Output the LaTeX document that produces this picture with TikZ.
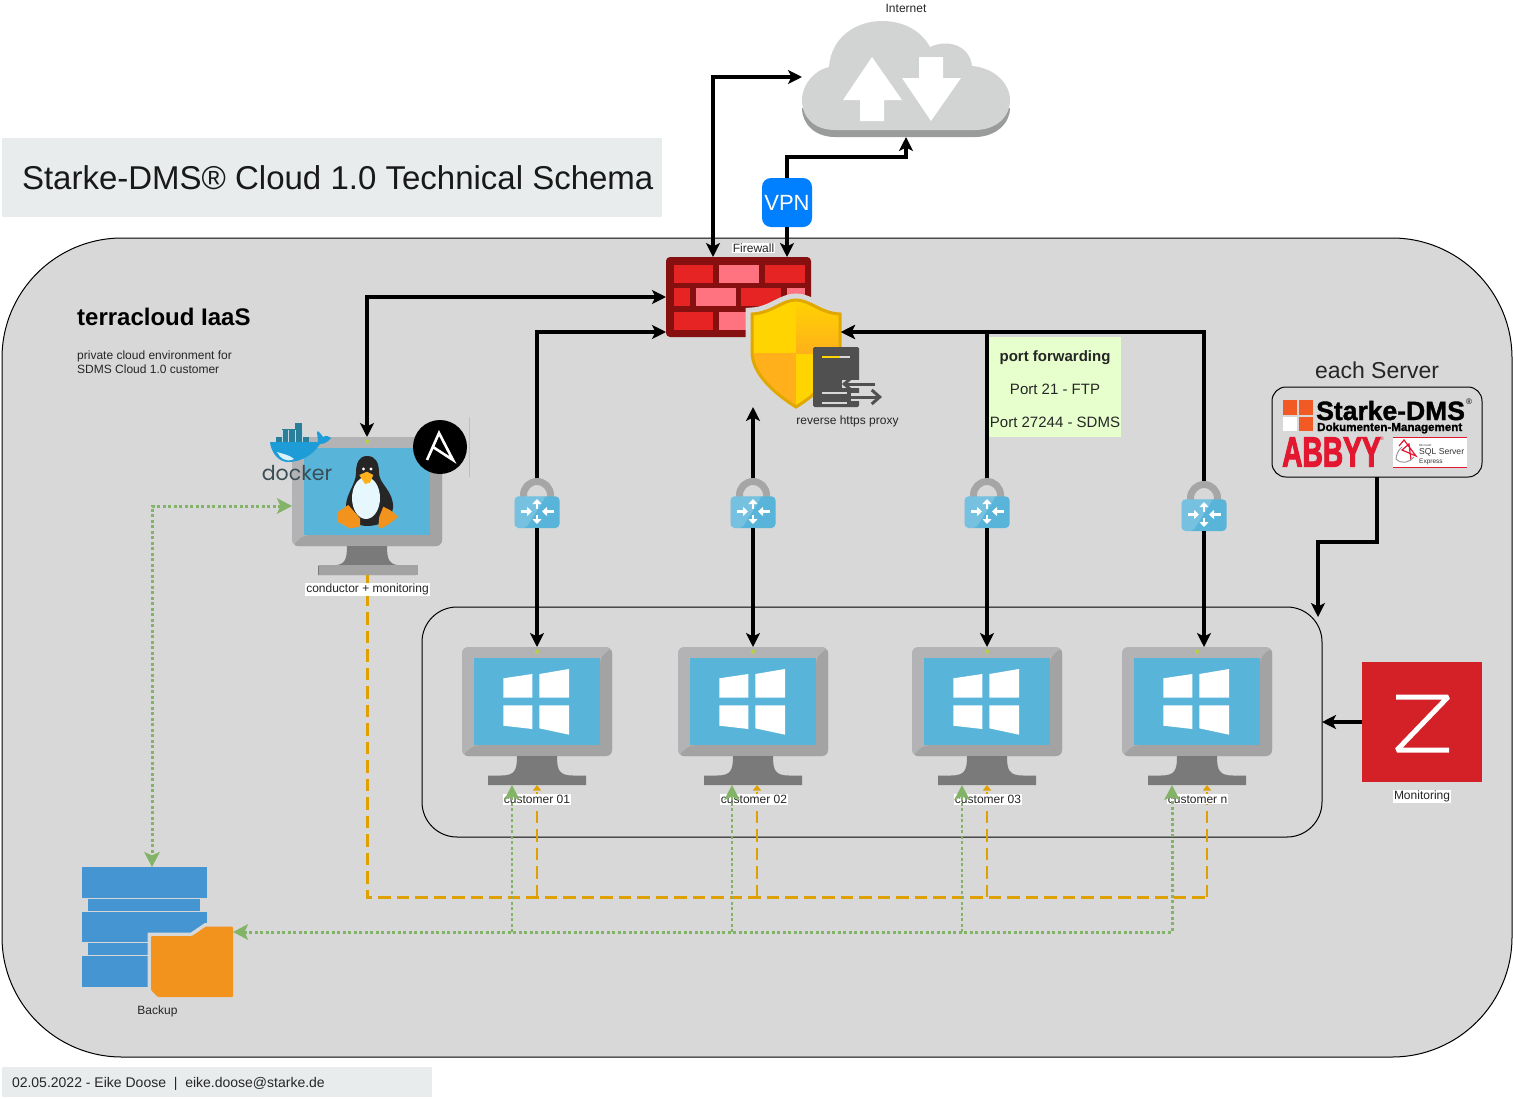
\documentclass[tikz,border=0pt]{standalone}
\usepackage{fontspec}
\setmainfont{Liberation Sans}
\newfontfamily\dockerfont{Poppins}
\newfontfamily\starkefont[BoldFeatures={FakeBold=1.5}]{Liberation Sans}
\newfontfamily\abbyyfont[BoldFeatures={FakeBold=3}]{Liberation Sans}
\usepackage{xcolor}
\usepackage{tikz}
\usetikzlibrary{arrows.meta,positioning,calc}
\definecolor{titlegray}{HTML}{E9ECEC}
\definecolor{iaasgray}{HTML}{D8D8D8}
\definecolor{cloudgray}{HTML}{D2D4D3}
\definecolor{cloudshade}{HTML}{9A9B9B}
\definecolor{vpnblue}{HTML}{007FFF}
\definecolor{wallred}{HTML}{85100F}
\definecolor{brickred}{HTML}{E62424}
\definecolor{brickpink}{HTML}{FF7380}
\definecolor{shieldgold}{HTML}{FFD400}
\definecolor{shieldamber}{HTML}{FFB01A}
\definecolor{shieldrim}{HTML}{E0A800}
\definecolor{proxygray}{HTML}{505050}
\definecolor{monbody}{HTML}{B3B3B5}
\definecolor{monshade}{HTML}{A3A3A3}
\definecolor{monstand}{HTML}{7A7A7A}
\definecolor{screenblue}{HTML}{59B4D9}
\definecolor{lockgray}{HTML}{A6A6A6}
\definecolor{notegreen}{HTML}{E6FFCC}
\definecolor{flowgreen}{HTML}{82B366}
\definecolor{floworange}{HTML}{DFA000}
\definecolor{stackblue}{HTML}{4495D1}
\definecolor{folderorange}{HTML}{F2931E}
\definecolor{zabbixred}{HTML}{D42027}
\definecolor{starkeorange}{HTML}{F15A24}
\definecolor{abbyyred}{HTML}{E3172F}
\definecolor{dockerblue}{HTML}{1E9CD7}
\definecolor{dockerdark}{HTML}{2A7F9B}
\definecolor{dockertext}{HTML}{394D54}
\definecolor{ledgreen}{HTML}{B8D432}
\newcommand{\fsz}[1]{\fontsize{#1}{#1}\selectfont}

\begin{document}
\begin{tikzpicture}[
  x=1pt,y=-1pt,
  place/.style 2 args={inner sep=0pt,outer sep=0pt,minimum width=#1,minimum height=#2},
  tag/.style={font=\fsz{12},inner sep=1pt,text=black!85,yshift=-0.8pt},
  whitetag/.style={tag,fill=white},
  flow/.style={draw=black,line width=3.1pt,-{Stealth[length=14pt,width=14pt,inset=3.5pt]}},
  bothflow/.style={flow,{Stealth[length=14pt,width=14pt,inset=3.5pt]}-{Stealth[length=14pt,width=14pt,inset=3.5pt]}},
  feed/.style={draw=floworange,line width=3pt,dash pattern=on 12.5pt off 6pt},
  feedup/.style={feed,line width=2.6pt,-{Stealth[length=5.5pt,width=8pt,inset=0pt]}},
  save/.style={draw=flowgreen,line width=2.8pt,dash pattern=on 3pt off 2.5pt,-{Stealth[length=15pt,width=15.5pt,inset=3.5pt]}},
  bothsave/.style={save,line width=3pt,{Stealth[length=15pt,width=15.5pt,inset=3.5pt]}-{Stealth[length=15pt,width=15.5pt,inset=3.5pt]}},
  pics/monitor/.style={code={
    \fill[monbody,rounded corners=6pt] (-75,-69) rectangle (75,40);
    \fill[monshade,rounded corners=6pt] (75,-69) -- (63,-58) -- (63,29) -- (-63,29) -- (-75,40) -- (75,40) -- cycle;
    \fill[screenblue] (-63,-58) rectangle (63,29);
    \fill[monstand] (-20,40) -- (20,40) .. controls (20,54) and (22,59.5) .. (36,59.5)
      -- (49,59.5) -- (49,69) -- (-49,69) -- (-49,59.5) -- (-36,59.5) .. controls (-22,59.5) and (-20,54) .. (-20,40) -- cycle;
    \fill[ledgreen] (0,-64.5) circle (2);
  }},
  pics/winlogo/.style={code={
    \fill[white] (-33.7,-23.7) -- (-4.7,-28) -- (-4.7,-4.3) -- (-33.7,-4.3) -- cycle;
    \fill[white] (2.3,-28) -- (32,-33) -- (32,-4.3) -- (2.3,-4.3) -- cycle;
    \fill[white] (-33.7,3.3) -- (-4.7,3.3) -- (-4.7,27) -- (-33.7,23.7) -- cycle;
    \fill[white] (2.3,3.3) -- (32,3.3) -- (32,32.7) -- (2.3,26.3) -- cycle;
  }},
  pics/vpnlock/.style={code={
    \draw[lockgray,line width=7pt] (-13.5,-5) -- (-13.5,-8) arc (180:360:13.5) -- (13.5,-5);
    \fill[screenblue,rounded corners=4pt] (-22.5,-6.7) rectangle (22.5,25);
    \fill[white,opacity=0.18,rounded corners=3pt] (-22.5,-6.7) -- (9,-6.7) -- (-11,25) -- (-22.5,25) -- cycle;
    \draw[white,line width=2.6pt,-{Triangle[length=5pt,width=9pt]}] (-16.5,8.5) -- (-5,8.5);
    \draw[white,line width=2.6pt,-{Triangle[length=5pt,width=9pt]}] (16.5,8.5) -- (5,8.5);
    \draw[white,line width=2.6pt,-{Triangle[length=5pt,width=9pt]}] (0,5.5) -- (0,-4);
    \draw[white,line width=2.6pt,-{Triangle[length=5pt,width=9pt]}] (0,11.5) -- (0,21);
  }},
  pics/tuxicon/.style={code={
    \fill[black!85] (0,-50) .. controls (9,-50) and (12,-43) .. (12,-33) .. controls (12,-22) and (27,-15) .. (26,2)
      .. controls (25,12) and (15,20) .. (0,20) .. controls (-12,20) and (-20,12) .. (-21,0)
      .. controls (-21,-12) and (-11,-22) .. (-11,-33) .. controls (-11,-43) and (-8,-50) .. (0,-50) -- cycle;
    \fill[white!90!cyan] (-1,-8) ellipse (14 and 21);
    \fill[folderorange] (-29.7,15.7) -- (-28.7,5.7) -- (-18.7,-1) -- (-7,12.3) -- (-7,20.7) -- (-17,22.3) -- cycle;
    \fill[folderorange] (11.3,20.7) -- (12.3,10.7) -- (16.3,0.7) -- (23,4) -- (31.3,10.7) -- (23,17.3) -- (14.7,22.3) -- cycle;
    \fill[shieldamber] (-7.7,-31) -- (0,-34.3) -- (6.3,-31) -- (3,-23.3) -- (-2,-22) -- cycle;
    \fill[white] (-3.5,-37) circle (1.6);
    \fill[white] (4,-37) circle (1.6);
  }}
]
  \useasboundingbox (0,0) rectangle (1513,1098);
  \fill[white] (0,0) rectangle (1513,1098);

  \node[place={660pt}{79pt},fill=titlegray,font=\fsz{33},text=black!90] (title) at (332,177.5) {\makebox[660pt][l]{\hspace{20pt}Starke-DMS® Cloud 1.0 Technical Schema}};
  \node[place={1510pt}{819pt},draw=black,fill=iaasgray,line width=1pt,rounded corners=120pt] (iaas) at (757,647.5) {};
  \node[place={900pt}{230pt},draw=black,line width=1pt,rounded corners=35pt] (group) at (872,722) {};
  \node[place={430pt}{30pt},fill=titlegray,font=\fsz{14},text=black!85] (footer) at (217,1082) {\makebox[430pt][l]{\hspace{10pt}\raisebox{-5pt}[0pt][0pt]{02.05.2022 - Eike Doose\ \ |\ \ eike.doose@starke.de}}};

  \node[font=\fsz{24},inner sep=0pt,anchor=west] (iaaslabel) at (77,317) {\textbf{terracloud IaaS}};
  \node[font=\fsz{12},inner sep=0pt,anchor=north west,align=left,text=black!85] (iaasnote) at (77,351) {private cloud environment for\\[2pt]SDMS Cloud 1.0 customer};

  \node[place={208pt}{117pt}] (cloud) at (906,78.5) {};
  \fill[cloudshade] (835,137) .. controls (815,137) and (802,124) .. (802,108) -- (1010,108) .. controls (1010,124) and (995,137) .. (975,137) -- cycle;
  \fill[cloudgray] (835,130) .. controls (815,130) and (802,118) .. (802,100) .. controls (802,84) and (815,70) .. (829,67)
    .. controls (831,38) and (855,21) .. (882,21) .. controls (905,21) and (922,32) .. (930,47)
    .. controls (950,38) and (970,47) .. (972,66) .. controls (995,68) and (1010,84) .. (1010,100)
    .. controls (1010,118) and (995,130) .. (975,130) -- cycle;
  \fill[white] (872,57) -- (902,100) -- (884,100) -- (884,121) -- (860,121) -- (860,100) -- (843,100) -- cycle;
  \fill[white] (919,57) -- (943,57) -- (943,78) -- (961,78) -- (931,121) -- (902,78) -- (919,78) -- cycle;
  \node[tag] (cloudlabel) at (906,7.5) {Internet};

  \node[place={50pt}{49pt},fill=vpnblue,rounded corners=9pt,text=white,font=\fsz{22}] (vpn) at (787,202.5) {VPN};

  \node[place={145pt}{80pt},fill=wallred,rounded corners=4pt] (firewall) at (738.5,297) {};
  \foreach \xa/\xb/\ya/\col in {674/713/265/brickred,719/759/265/brickpink,765/805/265/brickred,
    674/690/288/brickred,696/736/288/brickpink,741/781/288/brickred,787/805/288/brickpink,
    674/713/312/brickred,719/759/312/brickpink,765/805/312/brickred}
    \fill[\col] (\xa,\ya) rectangle (\xb,\ya+18);
  \node[tag,fill=white,inner sep=0.5pt] (firewalllabel) at (753.5,247.5) {Firewall};

  \node[place={88pt}{107pt}] (shield) at (796,353.5) {};
  \fill[iaasgray,draw=iaasgray,line width=13pt] (796,300) .. controls (810,300) and (820,313) .. (840,314) -- (840,352)
    .. controls (840,375) and (815,395) .. (796,407) .. controls (777,395) and (752,375) .. (752,352) -- (752,314)
    .. controls (772,313) and (782,300) .. (796,300) -- cycle;
  \begin{scope}
    \clip (796,300) .. controls (810,300) and (820,313) .. (840,314) -- (840,352)
      .. controls (840,375) and (815,395) .. (796,407) .. controls (777,395) and (752,375) .. (752,352) -- (752,314)
      .. controls (772,313) and (782,300) .. (796,300) -- cycle;
    \fill[shieldgold] (750,298) rectangle (842,409);
    \fill[shieldamber] (750,353) rectangle (796,409);
    \shade[top color=shieldgold,bottom color=shieldamber] (796,298) rectangle (842,353);
  \end{scope}
  \draw[shieldrim,line width=3pt] (796,300) .. controls (810,300) and (820,313) .. (840,314) -- (840,352)
    .. controls (840,375) and (815,395) .. (796,407) .. controls (777,395) and (752,375) .. (752,352) -- (752,314)
    .. controls (772,313) and (782,300) .. (796,300) -- cycle;
  \fill[proxygray,rounded corners=1.5pt] (813,347) rectangle (859,407);
  \draw[shieldgold,line width=2pt] (822,356.5) -- (840,356.5);
  \draw[iaasgray,line width=2pt] (840,356.5) -- (850,356.5);
  \draw[iaasgray,line width=2.4pt] (822,393) -- (847,393);
  \draw[iaasgray,line width=2.4pt] (822,403) -- (847,403);
  \draw[iaasgray,line width=8pt] (842,384) -- (876,384);
  \draw[iaasgray,line width=8pt] (851,397) -- (882,397);
  \draw[proxygray,line width=3pt,-{Straight Barb[length=8pt,width=14pt]}] (875,384) -- (842,384);
  \draw[proxygray,line width=3pt,-{Straight Barb[length=8pt,width=14pt]}] (851,397) -- (882,397);
  \node[tag] (shieldlabel) at (847.5,421) {reverse https proxy};

  \node[place={132pt}{100pt},fill=notegreen,font=\fsz{15},align=center,text=black!85] (portnote) at (1055,387) {\rule{0pt}{15pt}\textbf{port forwarding}\\[18pt]Port 21 - FTP\\[18pt]Port 27244 - SDMS};

  \node[font=\fsz{23},inner sep=0pt,text=black!85] (serverlabel) at (1377,370) {each Server};
  \node[place={210pt}{90pt},draw=black,line width=1pt,rounded corners=14pt] (server) at (1377,432) {};
  \fill[starkeorange] (1283,400) rectangle (1297,415);
  \fill[starkeorange] (1299,400) rectangle (1313,415);
  \fill[white] (1283,417) rectangle (1297,431);
  \fill[starkeorange] (1299,417) rectangle (1313,431);
  \node[font={\starkefont\fsz{26.5}},inner sep=0pt,anchor=base west] (starketext) at (1316,420) {\textbf{Starke-DMS}};
  \node[font=\fsz{8},inner sep=0pt] (starkereg) at (1469,402) {®};
  \node[font={\starkefont\fsz{11.6}},inner sep=0pt,anchor=base west] (starkesub) at (1317,431) {\textbf{Dokumenten-Management}};
  \node[font={\abbyyfont\fsz{42}},inner sep=0pt,anchor=west,text=abbyyred] (abbyy) at (1282,452) {\scalebox{0.67}[1]{\textbf{ABBYY}}};
  \node[font=\fsz{5},inner sep=0pt,text=abbyyred] (abbyyreg) at (1382,439) {®};
  \node[place={74pt}{30pt},fill=white] (sqlbox) at (1430,452) {};
  \draw[abbyyred,line width=0.7pt] (sqlbox.north west) -- (sqlbox.north east);
  \draw[abbyyred,line width=0.7pt] (sqlbox.south west) -- (sqlbox.south east);
  \draw[abbyyred,line width=1.2pt] (1399,446) -- (1404,440) -- (1416,456) -- (1402,450) -- (1409,444) -- (1411,460);
  \draw[black!40,line width=1pt] (1396,459) .. controls (1397,451) and (1400,449) .. (1402,447);
  \draw[black!40,line width=1pt] (1396,459) .. controls (1402,465) and (1410,462) .. (1414,457);
  \node[font=\fsz{3},inner sep=0pt,anchor=west,text=black!80] (sqlms) at (1419,445) {Microsoft};
  \node[font=\fsz{8.6},inner sep=0pt,anchor=west,text=black!80] (sqlname) at (1419,452.7) {SQL Server};
  \node[font=\fsz{6.5},inner sep=0pt,anchor=west,text=black!80] (sqled) at (1419,461.7) {Express};

  \node[place={120pt}{120pt},fill=zabbixred] (zabbix) at (1422,722) {};
  \draw[white,line width=5pt,line join=bevel] (1396,697) -- (1448,697) -- (1397,750) -- (1449,750);
  \node[whitetag] (zabbixlabel) at (1422,796) {Monitoring};

  \foreach \lockname/\lx/\ly in {lock1/537/503,lock2/753/503,lock3/987/503,lock4/1204/506}{
    \node[place={44pt}{50pt}] (\lockname) at (\lx,\ly) {};
    \pic at (\lockname) {vpnlock};
  }

  \node[place={150pt}{138pt}] (conductor) at (367,506) {};
  \pic at (conductor) {monitor};
  \fill[monshade] (319,565) rectangle (418,575);
  \pic at (conductor) {tuxicon};
  \fill[dockerdark] (276,437) rectangle (309,442);
  \fill[dockerdark] (282,429) rectangle (302,437);
  \fill[dockerdark] (295,423) rectangle (302,429);
  \foreach \gx in {282,288,295,302}
    \draw[white!70!dockerdark,line width=0.5pt] (\gx,430) -- (\gx,442);
  \fill[dockerblue] (270,442) -- (318,442) .. controls (318,436) and (316,432) .. (318,431) .. controls (320,433) and (322,435) .. (323,437)
    .. controls (326,435) and (329,436) .. (331,438) .. controls (328,442) and (324,444) .. (320,444)
    .. controls (312,456) and (300,462) .. (288,462) .. controls (278,462) and (271,452) .. (270,442) -- cycle;
  \fill[white!85!cyan] (277,452) .. controls (282,454) and (288,454) .. (294,459) .. controls (286,463) and (280,458) .. (277,452) -- cycle;
  \node[font={\dockerfont\fsz{20.5}},inner sep=0pt,text=dockertext] (dockerlabel) at (297,473) {docker};
  \node[circle,minimum size=54pt,fill=black,inner sep=0pt] (ansible) at (440,447) {};
  \draw[white,line width=2.6pt,line join=miter] (427,460) -- (439,433) -- (453,460) -- (433,447);
  \draw[black!25,line width=0.5pt] (469,417) -- (469,477);

  \foreach \pcname/\px in {pc1/537,pc2/753,pc3/987,pc4/1197}{
    \node[place={150pt}{138pt}] (\pcname) at (\px,716) {};
    \pic at (\pcname) {monitor};
    \pic at ($(\pcname)+(0,-14)$) {winlogo};
  }

  \node[place={125pt}{120pt}] (stack) at (144.5,927) {};
  \fill[stackblue] (82,867) rectangle (207,898);
  \fill[stackblue] (88,899) rectangle (200,911);
  \fill[stackblue] (82,912) rectangle (207,942);
  \fill[stackblue] (88,943) rectangle (200,955);
  \fill[stackblue] (82,956) rectangle (207,987);
  \node[place={82pt}{71pt}] (folder) at (192,961.5) {};
  \fill[iaasgray,draw=iaasgray,line width=7pt] (151,936) -- (192,936) -- (206,926.5) -- (233,926.5) -- (233,997) -- (157,997) -- (151,991) -- cycle;
  \fill[folderorange,rounded corners=1pt] (151,936) -- (192,936) -- (206,926.5) -- (233,926.5) -- (233,997) -- (158,997) -- (151,990) -- cycle;
  \node[tag] (backuplabel) at (157.5,1011) {Backup};

  \draw[feed] (conductor.south) |- ($(pc4.south)+(10,112)$);
  \foreach \pcname/\off in {pc1/0,pc2/4,pc3/0,pc4/10}
    \draw[feedup] ($(\pcname.south)+(\off,112)$) -- ($(\pcname.south)+(\off,0)$);
  \node[whitetag] (conductorlabel) at (367.5,589) {conductor + monitoring};
  \foreach \pcname/\lblx/\lbl in {pc1/537/customer 01,pc2/754/customer 02,pc3/988/customer 03,pc4/1197.5/customer n}
    \node[whitetag] (\pcname label) at (\lblx,798.5) {\lbl};

  \draw[bothflow] ($(firewall.north)+(-25.5,0)$) |- ($(cloud.west)+(0,-1.5)$);
  \draw[flow] (vpn.south) -- (vpn.south |- firewall.north);
  \draw[flow] (vpn.north) -- ++(0,-21) -| (cloud.south);
  \draw[bothflow] (firewall.west) -| (conductor.north);
  \draw[flow] (lock1.north) |- ($(firewall.west)+(0,35)$);
  \draw[flow] (lock1.south) -- (lock1.south |- pc1.north);
  \draw[flow] (lock2.north) -- (lock2.north |- shield.south);
  \draw[flow] (lock2.south) -- (lock2.south |- pc2.north);
  \draw[flow] (lock3.north) |- ($(shield.east)+(1,-21.5)$);
  \draw[flow] (lock3.south) -- (lock3.south |- pc3.north);
  \draw[flow] (lock4.north) |- ($(shield.east)+(1,-21.5)$);
  \draw[flow] (lock4.south) -- (lock4.south |- pc4.north);
  \draw[flow] (server.south) -- ++(0,65) -| ($(group.north east)+(-4,10)$);
  \draw[flow] (zabbix.west) -- (group.east);

  \draw[bothsave] (conductor.west) -| ($(stack.north)+(7.5,0)$);
  \draw[bothsave] ($(folder.north east)+(0,6)$) -| ($(pc4.south)+(-25,0)$);
  \foreach \pcname/\off in {pc1/-25,pc2/-21,pc3/-25}
    \draw[save] ($(\pcname.south)+(\off,147)$) -- ($(\pcname.south)+(\off,0)$);
\end{tikzpicture}
\end{document}
